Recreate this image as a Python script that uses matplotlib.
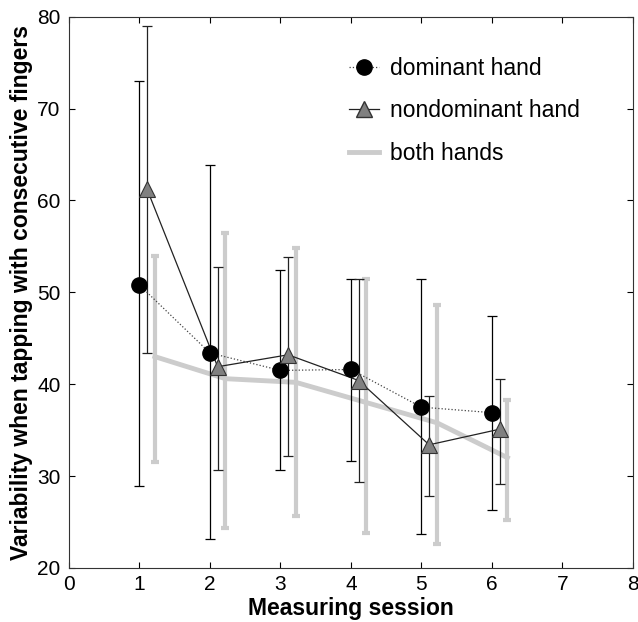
import numpy as np
import matplotlib
matplotlib.use("Agg")
import matplotlib.pyplot as plt
from matplotlib.lines import Line2D

plt.rcParams['font.family'] = ['Liberation Sans', 'DejaVu Sans']

sessions = [1, 2, 3, 4, 5, 6]

# dominant hand
dom_mean = [50.8, 43.4, 41.5, 41.6, 37.5, 36.9]
dom_hi = [73.0, 63.9, 52.4, 51.5, 51.4, 47.4]
dom_lo = [28.9, 23.1, 30.7, 31.6, 23.7, 26.3]

# nondominant hand
nd_mean = [61.2, 41.9, 43.2, 40.4, 33.4, 35.1]
nd_hi = [79.0, 52.8, 53.8, 51.4, 38.7, 40.6]
nd_lo = [43.4, 30.7, 32.2, 29.3, 27.8, 29.1]

# both hands
both_mean = [43.0, 40.6, 40.2, 38.0, 35.8, 32.0]
both_hi = [54.0, 56.5, 54.8, 51.5, 48.6, 38.3]
both_lo = [31.5, 24.3, 25.6, 23.8, 22.6, 25.2]

x = np.array(sessions, dtype=float)
dom = np.array(dom_mean); nd = np.array(nd_mean); both = np.array(both_mean)

fig = plt.figure(figsize=(6.38, 6.22), dpi=100)
ax = fig.add_axes([0.108, 0.087, 0.884, 0.886])

grey = '#cccccc'

# both hands
ax.errorbar(x + 0.22, both, yerr=[both - np.array(both_lo), np.array(both_hi) - both],
            fmt='none', ecolor=grey, elinewidth=3, capsize=3, capthick=3, zorder=1)
ax.plot(x + 0.22, both, color=grey, lw=3.5, zorder=1)

# dominant hand
ax.errorbar(x, dom, yerr=[dom - np.array(dom_lo), np.array(dom_hi) - dom],
            fmt='none', ecolor='black', elinewidth=0.9, capsize=3.5, capthick=0.9, zorder=2)
ax.plot(x, dom, color='#444444', lw=0.9, ls=':', zorder=3)
ax.plot(x, dom, ls='none', marker='o', ms=11, mfc='black', mec='black', zorder=4)

# nondominant hand
ax.errorbar(x + 0.11, nd, yerr=[nd - np.array(nd_lo), np.array(nd_hi) - nd],
            fmt='none', ecolor='#222222', elinewidth=0.9, capsize=3.5, capthick=0.9, zorder=2)
ax.plot(x + 0.11, nd, color='#222222', lw=0.9, zorder=3)
ax.plot(x + 0.11, nd, ls='none', marker='^', ms=12, mfc='#808080', mec='#333333',
        mew=0.8, zorder=4)

ax.set_xlim(0, 8)
ax.set_ylim(20, 80)
ax.set_xticks(range(0, 9))
ax.set_yticks(range(20, 81, 10))
ax.tick_params(direction='in', top=True, right=True, labelsize=15, length=4)
ax.tick_params(axis='x', pad=5)
ax.tick_params(axis='y', pad=6)
for s in ax.spines.values():
    s.set_linewidth(0.8)
    s.set_color('#333333')

ax.set_xlabel('Measuring session', fontsize=16.5, fontweight='bold', labelpad=2)
ax.set_ylabel('Variability when tapping with consecutive fingers', fontsize=16.5,
              fontweight='bold', labelpad=3)

handles = [
    Line2D([0], [0], color='#444444', ls=':', lw=0.9, marker='o', ms=11,
           mfc='black', mec='black', label='dominant hand'),
    Line2D([0], [0], color='#222222', lw=0.9, marker='^', ms=12,
           mfc='#808080', mec='#333333', label='nondominant hand'),
    Line2D([0], [0], color=grey, lw=3.5, label='both hands'),
]
ax.legend(handles=handles, loc='upper left', bbox_to_anchor=(0.46, 0.965),
          frameon=False, fontsize=16.5, handlelength=1.3, labelspacing=0.85,
          handletextpad=0.5)

fig.savefig('out.png', dpi=100)
